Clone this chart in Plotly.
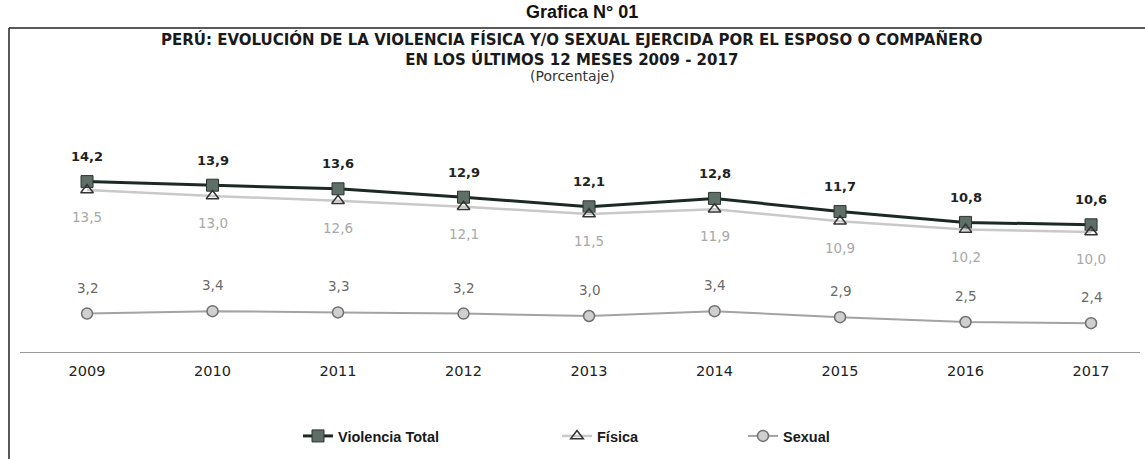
import plotly.graph_objects as go

years = ["2009", "2010", "2011", "2012", "2013", "2014", "2015", "2016", "2017"]
total = [14.2, 13.9, 13.6, 12.9, 12.1, 12.8, 11.7, 10.8, 10.6]
fisica = [13.5, 13.0, 12.6, 12.1, 11.5, 11.9, 10.9, 10.2, 10.0]
sexual = [3.2, 3.4, 3.3, 3.2, 3.0, 3.4, 2.9, 2.5, 2.4]

W, H = 1145, 459
PL, PR, PT, PB = 20, 1140, 160, 352      # plot area in page pixels
L, R = PL, W - PR
T, B = PT, H - PB
PW, PH = PR - PL, PB - PT
ARIAL = "Arial, Liberation Sans, sans-serif"
WIDE = "DejaVu Sans, sans-serif"


def px(x):
    return (x - PL) / PW


def py(y):
    return (PB - y) / PH


def fmt(v):
    return f"{v:.1f}".replace(".", ",")


fig = go.Figure()
fig.add_trace(go.Scatter(
    x=years, y=total, name="Violencia Total", mode="lines+markers",
    line=dict(color="#1d2a24", width=3),
    marker=dict(symbol="square", size=12, color="#5f6e66", line=dict(color="#2a3530", width=1)),
    legend="legend", cliponaxis=False))
fig.add_trace(go.Scatter(
    x=years, y=fisica, name="Física", mode="lines+markers",
    line=dict(color="#c9c9c9", width=2.5),
    marker=dict(symbol="triangle-up-open", size=11, color="#333333", line=dict(width=1.5)),
    legend="legend2", cliponaxis=False))
fig.add_trace(go.Scatter(
    x=years, y=sexual, name="Sexual", mode="lines+markers",
    line=dict(color="#a3a3a3", width=2),
    marker=dict(symbol="circle", size=11, color="#cfcfcf", line=dict(color="#707070", width=1.5)),
    legend="legend3", cliponaxis=False))

ann = []
for i in range(len(years)):
    ann.append(dict(x=i, y=total[i], text=fmt(total[i]), showarrow=False, yshift=25,
                    font=dict(family=WIDE, size=13, color="#222222", weight="bold")))
    ann.append(dict(x=i, y=fisica[i], text=fmt(fisica[i]), showarrow=False, yshift=-27,
                    font=dict(family=WIDE, size=13.5, color="#a8a8a8")))
    ann.append(dict(x=i, y=sexual[i], text=fmt(sexual[i]), showarrow=False, yshift=26,
                    font=dict(family=WIDE, size=13.5, color="#6a6a6a")))

ann += [
    dict(xref="paper", yref="paper", x=px(582), y=py(12), yanchor="middle", text="Grafica N° 01",
         showarrow=False, font=dict(family=ARIAL, size=18, color="#111111", weight="bold")),
    dict(xref="paper", yref="paper", x=px(572), y=py(50), yanchor="middle",
         text="PERÚ: EVOLUCIÓN DE LA VIOLENCIA FÍSICA Y/O SEXUAL EJERCIDA POR EL ESPOSO O COMPAÑERO"
              "<br>EN LOS ÚLTIMOS 12 MESES 2009 - 2017",
         showarrow=False, font=dict(family=WIDE, size=15, color="#1a1a1a", weight="bold")),
    dict(xref="paper", yref="paper", x=px(572), y=py(76), yanchor="middle", text="(Porcentaje)",
         showarrow=False, font=dict(family=WIDE, size=14, color="#333333")),
]

shapes = [
    dict(type="line", xref="paper", yref="paper", x0=px(9), x1=px(1150), y0=py(28), y1=py(28),
         line=dict(color="#222222", width=1.5)),
    dict(type="line", xref="paper", yref="paper", x0=px(9), x1=px(9), y0=py(28), y1=py(470),
         line=dict(color="#222222", width=1.5)),
]

legfont = dict(family=ARIAL, size=14.5, color="#1a1a1a", weight="bold")
fig.update_layout(
    width=W, height=H, margin=dict(l=L, r=R, t=T, b=B),
    paper_bgcolor="white", plot_bgcolor="white",
    showlegend=True,
    legend=dict(x=px(298), y=py(436), xanchor="left", yanchor="middle", font=legfont, bgcolor="rgba(0,0,0,0)"),
    legend2=dict(x=px(557), y=py(436), xanchor="left", yanchor="middle", font=legfont, bgcolor="rgba(0,0,0,0)"),
    legend3=dict(x=px(743), y=py(436), xanchor="left", yanchor="middle", font=legfont, bgcolor="rgba(0,0,0,0)"),
    annotations=ann, shapes=shapes,
    xaxis=dict(type="category", range=[-0.534, 8.39], showline=True, linecolor="#9a9a9a", linewidth=1,
               showgrid=False, zeroline=False, ticks="outside", ticklen=6, tickcolor="rgba(0,0,0,0)",
               tickfont=dict(family=WIDE, size=14.5, color="#222222")),
    yaxis=dict(range=[0, 16], visible=False, showgrid=False, zeroline=False),
)
fig.write_html("out.html", config={"displayModeBar": False},
               post_script="document.body.style.margin='0';")
